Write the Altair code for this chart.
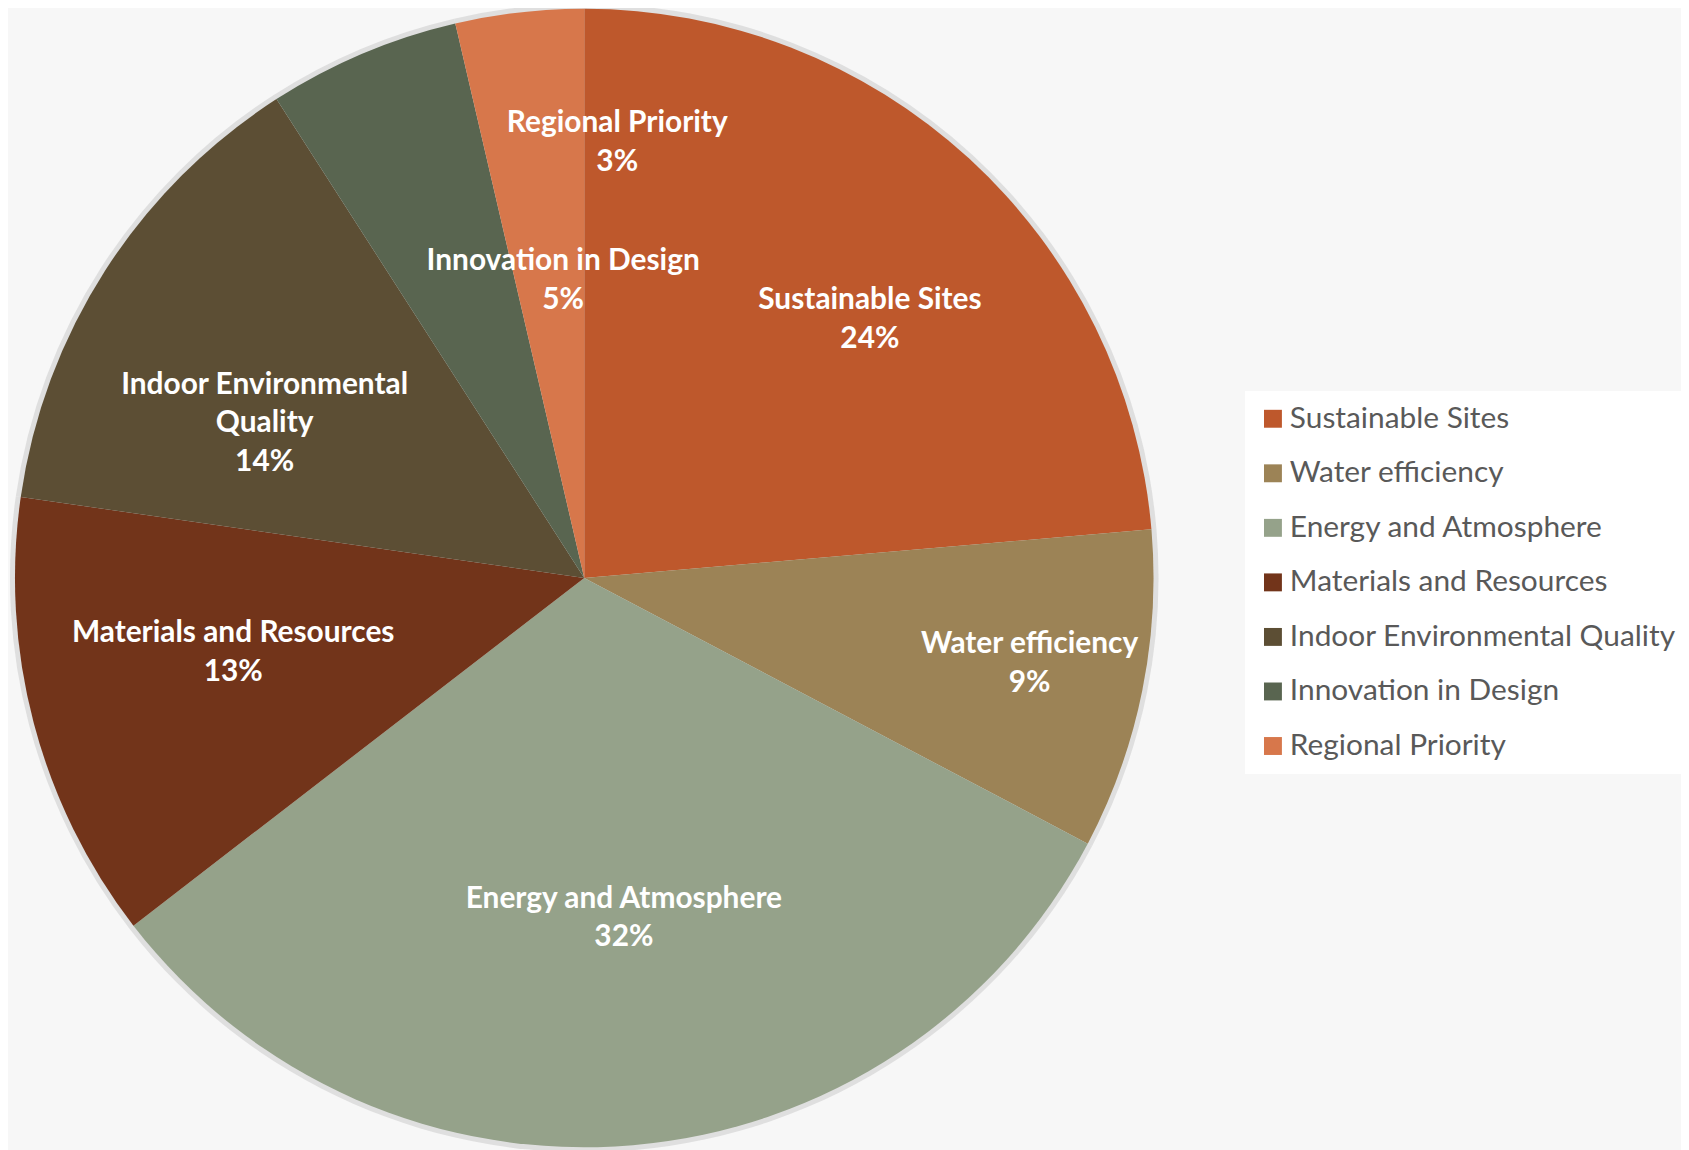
import altair as alt
import pandas as pd

categories = ["Sustainable Sites", "Water efficiency", "Energy and Atmosphere",
              "Materials and Resources", "Indoor Environmental Quality",
              "Innovation in Design", "Regional Priority"]
points = [26, 10, 35, 14, 15, 6, 4]
pct_labels = ["24%", "9%", "32%", "13%", "14%", "5%", "3%"]
label_names = ["Sustainable Sites", "Water efficiency", "Energy and Atmosphere",
               "Materials and Resources", "Indoor Environmental\nQuality",
               "Innovation in Design", "Regional Priority"]
colors = ["#BE582C", "#9C8356", "#95A28A", "#72341A", "#5C4E34", "#596550", "#D7774B"]

# label placement (styling only): distance from centre in px and
# angular nudge from the slice midpoint in degrees ("best fit" placement)
label_radius = [389, 455, 341, 360, 358, 303, 442]
label_nudge_deg = [5.0, -1.0, -1.8, 3.2, -6.5, 18.9, 10.85]

labels_txt = [n + "\n" + p for n, p in zip(label_names, pct_labels)]
df = pd.DataFrame({
    "category": categories,
    "points": points,
    "idx": list(range(len(categories))),
    "label": labels_txt,
    "nlines": [t.count("\n") + 1 for t in labels_txt],
    "lr": label_radius,
    "nudge": label_nudge_deg,
})
total = sum(points)

theta_scale = alt.Scale(domain=[0, total])
theta = alt.Theta("points:Q", stack=True, scale=theta_scale)
order = alt.Order("idx:Q", sort="ascending")

base = alt.Chart(df)

shadow = base.mark_arc(outerRadius=577, color="#d4d4d4", opacity=0.7).encode(
    theta=theta, order=order
)

pie = base.mark_arc(outerRadius=572, stroke=None).encode(
    theta=theta,
    order=order,
    color=alt.Color(
        "category:N",
        scale=alt.Scale(domain=categories, range=colors),
        legend=alt.Legend(
            title=None,
            orient="none",
            legendX=1243,
            legendY=382,
            symbolType="square",
            symbolSize=324,
            symbolStrokeWidth=0,
            labelFont="Lato",
            labelFontSize=30,
            labelColor="#595959",
            labelOffset=2,
            rowPadding=24.8,
            padding=13,
            fillColor="#ffffff",
            labelLimit=600,
        ),
    ),
)

LH = 39
label_base = base.transform_window(
    cum="sum(points)", sort=[alt.SortField("idx", order="ascending")]
).transform_calculate(
    mid=f"datum.cum - datum.points / 2 + datum.nudge * {total} / 360"
)


def label_layer(n):
    return label_base.transform_filter(alt.datum.nlines == n).mark_text(
        font="Lato", fontWeight="bold", fontSize=30, color="white",
        align="center", baseline="middle", lineBreak="\n", lineHeight=LH,
        dy=-(n - 1) * LH / 2 + 3,
    ).encode(
        theta=alt.Theta("mid:Q", stack=None, scale=theta_scale),
        radius=alt.Radius("lr:Q", scale=None),
        text="label:N",
    )


chart = alt.layer(shadow, pie, label_layer(2), label_layer(3)).properties(
    width=1158,
    height=1140,
    autosize=alt.AutoSizeParams(type="none"),
    padding={"left": 0, "top": 0, "right": 523, "bottom": 2},
    background="#f7f7f7",
).configure_view(stroke=None)

chart.save("out.html", embed_options={"renderer": "svg", "actions": False})
